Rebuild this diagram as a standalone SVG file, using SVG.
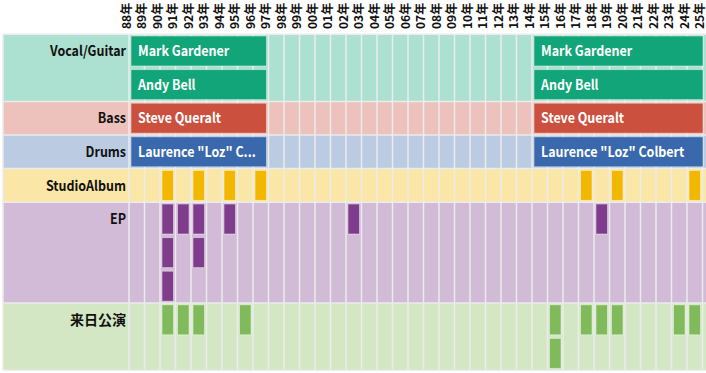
<svg xmlns="http://www.w3.org/2000/svg" width="706" height="373" viewBox="0 0 706 373">
<style>
text{font-family:"Noto Sans CJK JP","Noto Sans",sans-serif;font-weight:bold}
.yr{font-size:12px;fill:#111}
.lab{font-size:14px;fill:#111;text-anchor:end}
.bt{font-size:14px;fill:#fff}
.grid{stroke:#ececec;stroke-width:1.5;fill:none}
.bar{stroke:#fff;stroke-opacity:0.45;stroke-width:1}
.g{fill:#11A579}.r{fill:#CC503E}.b{fill:#3969AC}.y{fill:#F2B701}.p{fill:#7F3C8D}.l{fill:#80BA5A}
.bg{fill-opacity:0.35}
</style>
<rect width="706" height="373" fill="#fff"/>
<g id="header">
<text class="yr" transform="translate(130.5,29) rotate(-90)">88年</text>
<text class="yr" transform="translate(146,29) rotate(-90)">89年</text>
<text class="yr" transform="translate(161.5,29) rotate(-90)">90年</text>
<text class="yr" transform="translate(177,29) rotate(-90)">91年</text>
<text class="yr" transform="translate(192.5,29) rotate(-90)">92年</text>
<text class="yr" transform="translate(208,29) rotate(-90)">93年</text>
<text class="yr" transform="translate(223.5,29) rotate(-90)">94年</text>
<text class="yr" transform="translate(239,29) rotate(-90)">95年</text>
<text class="yr" transform="translate(254.5,29) rotate(-90)">96年</text>
<text class="yr" transform="translate(270,29) rotate(-90)">97年</text>
<text class="yr" transform="translate(285.5,29) rotate(-90)">98年</text>
<text class="yr" transform="translate(301,29) rotate(-90)">99年</text>
<text class="yr" transform="translate(316.5,29) rotate(-90)">00年</text>
<text class="yr" transform="translate(332,29) rotate(-90)">01年</text>
<text class="yr" transform="translate(347.5,29) rotate(-90)">02年</text>
<text class="yr" transform="translate(363,29) rotate(-90)">03年</text>
<text class="yr" transform="translate(378.5,29) rotate(-90)">04年</text>
<text class="yr" transform="translate(394,29) rotate(-90)">05年</text>
<text class="yr" transform="translate(409.5,29) rotate(-90)">06年</text>
<text class="yr" transform="translate(425,29) rotate(-90)">07年</text>
<text class="yr" transform="translate(440.5,29) rotate(-90)">08年</text>
<text class="yr" transform="translate(456,29) rotate(-90)">09年</text>
<text class="yr" transform="translate(471.5,29) rotate(-90)">10年</text>
<text class="yr" transform="translate(487,29) rotate(-90)">11年</text>
<text class="yr" transform="translate(502.5,29) rotate(-90)">12年</text>
<text class="yr" transform="translate(518,29) rotate(-90)">13年</text>
<text class="yr" transform="translate(533.5,29) rotate(-90)">14年</text>
<text class="yr" transform="translate(549,29) rotate(-90)">15年</text>
<text class="yr" transform="translate(564.5,29) rotate(-90)">16年</text>
<text class="yr" transform="translate(580,29) rotate(-90)">17年</text>
<text class="yr" transform="translate(595.5,29) rotate(-90)">18年</text>
<text class="yr" transform="translate(611,29) rotate(-90)">19年</text>
<text class="yr" transform="translate(626.5,29) rotate(-90)">20年</text>
<text class="yr" transform="translate(642,29) rotate(-90)">21年</text>
<text class="yr" transform="translate(657.5,29) rotate(-90)">22年</text>
<text class="yr" transform="translate(673,29) rotate(-90)">23年</text>
<text class="yr" transform="translate(688.5,29) rotate(-90)">24年</text>
<text class="yr" transform="translate(704,29) rotate(-90)">25年</text>
</g>
<g id="rows">
<rect class="g bg" x="3" y="34.2" width="703" height="67.2"/>
<rect class="r bg" x="3" y="101.4" width="703" height="33.6"/>
<rect class="b bg" x="3" y="135" width="703" height="33.6"/>
<rect class="y bg" x="3" y="168.6" width="703" height="33.6"/>
<rect class="p bg" x="3" y="202.2" width="703" height="100.8"/>
<rect class="l bg" x="3" y="303" width="703" height="67.2"/>
</g>
<g id="grid">
<path class="grid" d="M3,34.2H706M3,101.4H706M3,135H706M3,168.6H706M3,202.2H706M3,303H706M3,370.2H706M3,34.2V370.2"/>
<path class="grid" d="M129,34.2V370.2M144.5,34.2V370.2M160,34.2V370.2M175.5,34.2V370.2M191,34.2V370.2M206.5,34.2V370.2M222,34.2V370.2M237.5,34.2V370.2M253,34.2V370.2M268.5,34.2V370.2M284,34.2V370.2M299.5,34.2V370.2M315,34.2V370.2M330.5,34.2V370.2M346,34.2V370.2M361.5,34.2V370.2M377,34.2V370.2M392.5,34.2V370.2M408,34.2V370.2M423.5,34.2V370.2M439,34.2V370.2M454.5,34.2V370.2M470,34.2V370.2M485.5,34.2V370.2M501,34.2V370.2M516.5,34.2V370.2M532,34.2V370.2M547.5,34.2V370.2M563,34.2V370.2M578.5,34.2V370.2M594,34.2V370.2M609.5,34.2V370.2M625,34.2V370.2M640.5,34.2V370.2M656,34.2V370.2M671.5,34.2V370.2M687,34.2V370.2M702.5,34.2V370.2"/>
</g>
<g id="labels">
<text class="lab" transform="translate(126,56) scale(0.89,1)">Vocal/Guitar</text>
<text class="lab" transform="translate(126,123) scale(0.89,1)">Bass</text>
<text class="lab" transform="translate(126,157) scale(0.89,1)">Drums</text>
<text class="lab" transform="translate(126,190.5) scale(0.89,1)">StudioAlbum</text>
<text class="lab" transform="translate(126,224) scale(0.89,1)">EP</text>
<text class="lab" x="126" y="325">来日公演</text>
</g>
<g id="vocal-guitar">
<g id="mark-1"><rect class="bar g" x="131" y="36" width="135.5" height="30"/><text class="bt" transform="translate(138,56) scale(0.89,1)">Mark Gardener</text></g>
<g id="andy-1"><rect class="bar g" x="131" y="69.6" width="135.5" height="30"/><text class="bt" transform="translate(138,89.6) scale(0.89,1)">Andy Bell</text></g>
<g id="mark-2"><rect class="bar g" x="534" y="36" width="169" height="30"/><text class="bt" transform="translate(541,56) scale(0.89,1)">Mark Gardener</text></g>
<g id="andy-2"><rect class="bar g" x="534" y="69.6" width="169" height="30"/><text class="bt" transform="translate(541,89.6) scale(0.89,1)">Andy Bell</text></g>
</g>
<g id="bass">
<g id="steve-1"><rect class="bar r" x="131" y="103.2" width="135.5" height="30"/><text class="bt" transform="translate(138,123.2) scale(0.89,1)">Steve Queralt</text></g>
<g id="steve-2"><rect class="bar r" x="534" y="103.2" width="169" height="30"/><text class="bt" transform="translate(541,123.2) scale(0.89,1)">Steve Queralt</text></g>
</g>
<g id="drums">
<g id="loz-1"><rect class="bar b" x="131" y="136.8" width="135.5" height="30"/><text class="bt" transform="translate(138,156.8) scale(0.89,1)">Laurence "Loz" C...</text></g>
<g id="loz-2"><rect class="bar b" x="534" y="136.8" width="169" height="30"/><text class="bt" transform="translate(541,156.8) scale(0.89,1)">Laurence "Loz" Colbert</text></g>
</g>
<g id="studioalbum">
<rect id="sa-90" class="bar y" x="162" y="170.4" width="11.5" height="30"/>
<rect id="sa-92" class="bar y" x="193" y="170.4" width="11.5" height="30"/>
<rect id="sa-94" class="bar y" x="224" y="170.4" width="11.5" height="30"/>
<rect id="sa-96" class="bar y" x="255" y="170.4" width="11.5" height="30"/>
<rect id="sa-17" class="bar y" x="580.5" y="170.4" width="11.5" height="30"/>
<rect id="sa-19" class="bar y" x="611.5" y="170.4" width="11.5" height="30"/>
<rect id="sa-24" class="bar y" x="689" y="170.4" width="11.5" height="30"/>
</g>
<g id="ep">
<rect id="ep-90a" class="bar p" x="162" y="204" width="11.5" height="30"/>
<rect id="ep-91" class="bar p" x="177.5" y="204" width="11.5" height="30"/>
<rect id="ep-92a" class="bar p" x="193" y="204" width="11.5" height="30"/>
<rect id="ep-94" class="bar p" x="224" y="204" width="11.5" height="30"/>
<rect id="ep-02" class="bar p" x="348" y="204" width="11.5" height="30"/>
<rect id="ep-18" class="bar p" x="596" y="204" width="11.5" height="30"/>
<rect id="ep-90b" class="bar p" x="162" y="237.6" width="11.5" height="30"/>
<rect id="ep-92b" class="bar p" x="193" y="237.6" width="11.5" height="30"/>
<rect id="ep-90c" class="bar p" x="162" y="271.2" width="11.5" height="30"/>
</g>
<g id="japan-tour">
<rect id="jt-90" class="bar l" x="162" y="304.8" width="11.5" height="30"/>
<rect id="jt-91" class="bar l" x="177.5" y="304.8" width="11.5" height="30"/>
<rect id="jt-92" class="bar l" x="193" y="304.8" width="11.5" height="30"/>
<rect id="jt-95" class="bar l" x="239.5" y="304.8" width="11.5" height="30"/>
<rect id="jt-15a" class="bar l" x="549.5" y="304.8" width="11.5" height="30"/>
<rect id="jt-17" class="bar l" x="580.5" y="304.8" width="11.5" height="30"/>
<rect id="jt-18" class="bar l" x="596" y="304.8" width="11.5" height="30"/>
<rect id="jt-19" class="bar l" x="611.5" y="304.8" width="11.5" height="30"/>
<rect id="jt-23" class="bar l" x="673.5" y="304.8" width="11.5" height="30"/>
<rect id="jt-24" class="bar l" x="689" y="304.8" width="11.5" height="30"/>
<rect id="jt-15b" class="bar l" x="549.5" y="338.4" width="11.5" height="30"/>
</g>
<g id="connectors"/>
</svg>
